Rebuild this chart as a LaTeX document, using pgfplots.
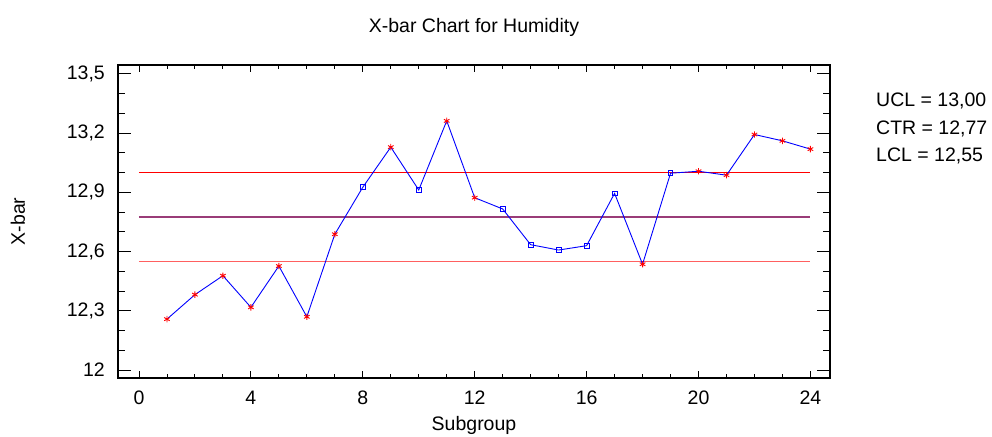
\documentclass[border=0pt]{standalone}
\usepackage{fontspec}
\setmainfont{Liberation Sans}
\usepackage{pgfplots}
\pgfplotsset{compat=1.18}
\definecolor{ctrpurple}{HTML}{9A3C78}
\definecolor{lclred}{HTML}{FF6060}

\begin{document}
\begin{tikzpicture}[font=\fontsize{19.5}{23}\selectfont]
\useasboundingbox (0,0) rectangle (992pt,436pt);
\begin{axis}[
  at={(118pt,58pt)}, anchor=south west,
  scale only axis,
  width=712pt, height=313pt,
  xmin=-0.75, xmax=24.7,
  ymin=11.96, ymax=13.545,
  xtick={0,4,...,24},
  ytick={12,12.3,...,13.5},
  minor x tick num=3,
  minor y tick num=2,
  tick align=inside,
  major tick length=13pt,
  minor tick length=7pt,
  xtick style={/pgfplots/major tick length=7pt,/pgfplots/minor tick length=4pt},
  axis line style={line width=1.2pt},
  every tick/.style={black,line width=0.9pt},
  /pgf/number format/assume math mode=true,
  /pgf/number format/use comma,
  yticklabel style={inner sep=0pt, anchor=east, xshift=-13pt},
  xticklabel style={inner sep=0pt, anchor=base, yshift=-27pt},
  xlabel={Subgroup},
  ylabel={X-bar},
  xlabel style={at={(axis description cs:0.5,0)}, anchor=base, yshift=-52pt},
  ylabel style={at={([xshift=-100pt]axis description cs:0,0.5)}, anchor=center, inner sep=0pt},
  clip=false,
]
% control limits
\addplot[color=red, line width=1pt, no marks] coordinates {(0,13.00) (24,13.00)};
\addplot[color=ctrpurple, line width=1.3pt, no marks] coordinates {(0,12.775) (24,12.775)};
\addplot[color=lclred, line width=1.5pt, no marks] coordinates {(0,12.55) (24,12.55)};
% subgroup means
\addplot[color=blue, line width=0.9pt, no marks] coordinates {
(1,12.258) (2,12.382) (3,12.478) (4,12.318) (5,12.527) (6,12.270)
(7,12.688) (8,12.926) (9,13.129) (10,12.912) (11,13.262) (12,12.873)
(13,12.816) (14,12.635) (15,12.608) (16,12.630) (17,12.895) (18,12.536)
(19,12.997) (20,13.007) (21,12.987) (22,13.193) (23,13.161) (24,13.119)
};
\addplot[only marks, mark=square, mark size=2.4pt, blue, mark options={line width=0.9pt}] coordinates {
(8,12.926) (10,12.912) (13,12.816) (14,12.635) (15,12.608) (16,12.630)
(17,12.895) (19,12.997)
};
\addplot[only marks, mark=asterisk, mark size=3.2pt, red, mark options={line width=0.9pt}] coordinates {
(1,12.258) (2,12.382) (3,12.478) (4,12.318) (5,12.527) (6,12.270)
(7,12.688) (9,13.129) (11,13.262) (12,12.873) (18,12.536)
(20,13.007) (21,12.987) (22,13.193) (23,13.161) (24,13.119)
};
\end{axis}
\node[anchor=base] at (474pt,403pt) {X-bar Chart for Humidity};
\node[anchor=base west, inner sep=0pt] at (876pt,329pt) {UCL = 13,00};
\node[anchor=base west, inner sep=0pt] at (876pt,301pt) {CTR = 12,77};
\node[anchor=base west, inner sep=0pt] at (876pt,274pt) {LCL = 12,55};
\end{tikzpicture}
\end{document}
